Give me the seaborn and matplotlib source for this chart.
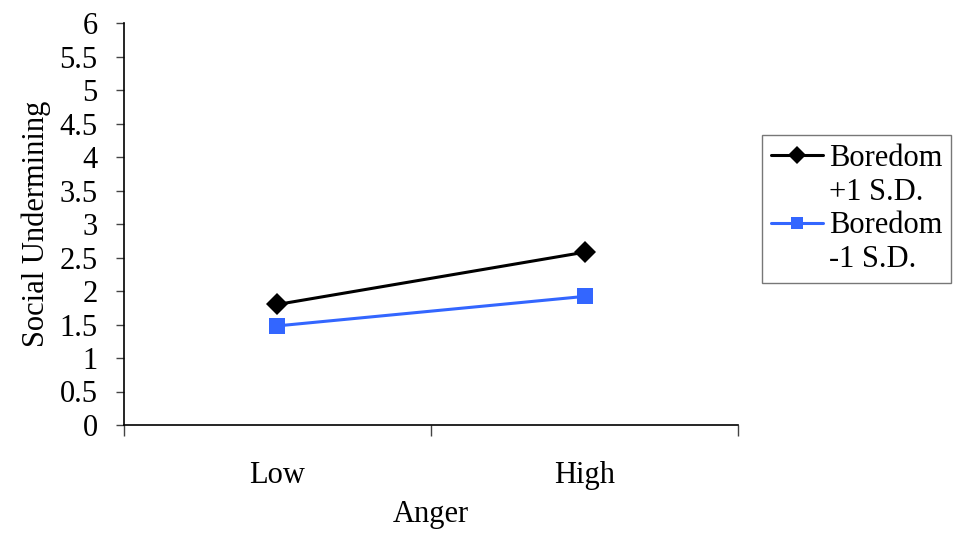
import pandas as pd
import matplotlib.pyplot as plt
from matplotlib.lines import Line2D
import seaborn as sns

# values
anger_levels = ['Low', 'High']
boredom_high = [1.80, 2.58]
boredom_low = [1.48, 1.92]
series_names = ['Boredom +1 S.D.', 'Boredom -1 S.D.']
y_ticks = [0, 0.5, 1, 1.5, 2, 2.5, 3, 3.5, 4, 4.5, 5, 5.5, 6]

df = pd.DataFrame({
    'pos': [0, 1, 0, 1],
    'value': boredom_high + boredom_low,
    'group': [series_names[0]] * 2 + [series_names[1]] * 2,
})

sns.set_theme(style='white')
plt.rcParams['font.family'] = ['Liberation Serif', 'DejaVu Serif']
plt.rcParams['text.color'] = 'black'
plt.rcParams['axes.labelcolor'] = 'black'
plt.rcParams['xtick.labelcolor'] = 'black'
plt.rcParams['ytick.labelcolor'] = 'black'
FS = 22

fig = plt.figure(figsize=(9.64, 5.4), dpi=100)
ax = fig.add_axes([0.1286, 0.213, 0.637, 0.744])

sns.lineplot(data=df, x='pos', y='value', hue='group', style='group',
             palette={series_names[0]: 'black', series_names[1]: '#3366FF'},
             markers={series_names[0]: 'D', series_names[1]: 's'},
             dashes=False, markersize=11, markeredgewidth=0, linewidth=2.2,
             legend=True, ax=ax)

ax.set_xlim(-0.5, 1.5)
ax.set_ylim(0, 6)
ax.set_yticks(y_ticks)
ax.set_yticklabels([f'{t:g}' for t in y_ticks], fontsize=FS)

ax.set_xticks([-0.5, 0.5, 1.5])
ax.set_xticklabels([])
ax.set_xticks([0, 1], minor=True)
ax.set_xticklabels(anger_levels, minor=True, fontsize=FS)
ax.tick_params(axis='x', which='major', direction='out', length=8, width=1,
               color='#444444', bottom=True)
ax.tick_params(axis='x', which='minor', length=0, pad=26)
ax.tick_params(axis='y', direction='out', length=6, width=1,
               color='#444444', left=True, pad=13)

for side in ['top', 'right']:
    ax.spines[side].set_visible(False)
for side in ['left', 'bottom']:
    ax.spines[side].set_color('black')
    ax.spines[side].set_linewidth(1.2)

ax.set_xlabel('Anger', fontsize=FS, labelpad=7)
ax.set_ylabel('Social Undermining', fontsize=FS, labelpad=6)

# legend: handle on the first line of each two-line label
handles, labels = ax.get_legend_handles_labels()
blank = Line2D([], [], linestyle='none', marker='none')
leg_handles, leg_labels = [], []
for h, lab in zip(handles, labels):
    first, second = lab.split(' ', 1)
    h.set_markersize(9)
    leg_handles += [h, blank]
    leg_labels += [first, second]

leg = ax.legend(leg_handles, leg_labels, loc='upper left',
                bbox_to_anchor=(0.790, 0.75), bbox_transform=fig.transFigure,
                fontsize=FS, frameon=True, fancybox=False, borderpad=0.3,
                handlelength=1.7, handletextpad=0.2, labelspacing=0.15,
                borderaxespad=0)
leg.get_frame().set_edgecolor('#555555')
leg.get_frame().set_linewidth(1)

fig.savefig('out.png', dpi=100)
